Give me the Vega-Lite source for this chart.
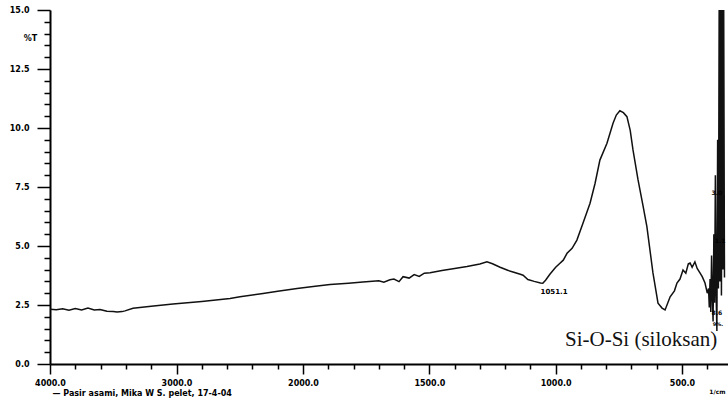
{
  "$schema": "https://vega.github.io/schema/vega-lite/v6.json",
  "width": 678,
  "height": 354,
  "autosize": {"type": "none"},
  "padding": {"left": 50, "top": 10, "right": 0, "bottom": 39},
  "background": "white",
  "config": {"view": {"stroke": null}},
  "datasets": {
    "spectrum": [
      {"w": 4000, "t": 2.32}, {"w": 3950, "t": 2.30}, {"w": 3900, "t": 2.34}, {"w": 3850, "t": 2.28},
      {"w": 3800, "t": 2.35}, {"w": 3750, "t": 2.29}, {"w": 3700, "t": 2.37}, {"w": 3650, "t": 2.29},
      {"w": 3605, "t": 2.31}, {"w": 3550, "t": 2.24}, {"w": 3500, "t": 2.22}, {"w": 3470, "t": 2.20},
      {"w": 3430, "t": 2.22}, {"w": 3407, "t": 2.25}, {"w": 3344, "t": 2.36}, {"w": 3200, "t": 2.45},
      {"w": 3028, "t": 2.54}, {"w": 2800, "t": 2.65}, {"w": 2577, "t": 2.78}, {"w": 2498, "t": 2.85},
      {"w": 2316, "t": 2.99}, {"w": 2200, "t": 3.08}, {"w": 2047, "t": 3.20}, {"w": 1960, "t": 3.28},
      {"w": 1893, "t": 3.37}, {"w": 1820, "t": 3.42}, {"w": 1763, "t": 3.47}, {"w": 1700, "t": 3.53},
      {"w": 1680, "t": 3.47}, {"w": 1656, "t": 3.57}, {"w": 1640, "t": 3.60}, {"w": 1620, "t": 3.49},
      {"w": 1604, "t": 3.70}, {"w": 1580, "t": 3.64}, {"w": 1560, "t": 3.79}, {"w": 1540, "t": 3.71},
      {"w": 1520, "t": 3.85}, {"w": 1497, "t": 3.87}, {"w": 1450, "t": 3.96}, {"w": 1400, "t": 4.05},
      {"w": 1351, "t": 4.13}, {"w": 1300, "t": 4.24}, {"w": 1272, "t": 4.33}, {"w": 1250, "t": 4.25},
      {"w": 1220, "t": 4.10}, {"w": 1190, "t": 3.97}, {"w": 1169, "t": 3.90}, {"w": 1140, "t": 3.80},
      {"w": 1129, "t": 3.76}, {"w": 1110, "t": 3.58}, {"w": 1085, "t": 3.50}, {"w": 1060, "t": 3.43},
      {"w": 1051, "t": 3.42}, {"w": 1040, "t": 3.55}, {"w": 1023, "t": 3.80}, {"w": 1000, "t": 4.10},
      {"w": 983, "t": 4.27}, {"w": 970, "t": 4.40}, {"w": 955, "t": 4.69}, {"w": 935, "t": 4.90},
      {"w": 916, "t": 5.25}, {"w": 892, "t": 5.96}, {"w": 864, "t": 6.81}, {"w": 844, "t": 7.66},
      {"w": 825, "t": 8.64}, {"w": 797, "t": 9.35}, {"w": 773, "t": 10.20}, {"w": 760, "t": 10.55},
      {"w": 746, "t": 10.73}, {"w": 732, "t": 10.65}, {"w": 718, "t": 10.48}, {"w": 705, "t": 9.90},
      {"w": 694, "t": 9.07}, {"w": 674, "t": 7.80}, {"w": 655, "t": 6.74}, {"w": 639, "t": 5.82},
      {"w": 615, "t": 3.86}, {"w": 595, "t": 2.58}, {"w": 579, "t": 2.37}, {"w": 567, "t": 2.29},
      {"w": 547, "t": 2.85}, {"w": 530, "t": 3.10}, {"w": 520, "t": 3.43}, {"w": 508, "t": 3.60},
      {"w": 496, "t": 3.98}, {"w": 485, "t": 3.85}, {"w": 475, "t": 4.25}, {"w": 468, "t": 4.28},
      {"w": 460, "t": 4.10}, {"w": 449, "t": 4.33}, {"w": 440, "t": 4.05}, {"w": 429, "t": 3.86},
      {"w": 420, "t": 3.70}, {"w": 409, "t": 3.43}, {"w": 400, "t": 3.0}, {"w": 395, "t": 3.2},
      {"w": 392, "t": 2.4}, {"w": 389, "t": 3.6}, {"w": 386, "t": 2.2}, {"w": 383, "t": 4.6},
      {"w": 380, "t": 2.9}, {"w": 377, "t": 1.8}, {"w": 374, "t": 5.5}, {"w": 371, "t": 2.6},
      {"w": 368, "t": 8.0}, {"w": 365, "t": 3.0}, {"w": 362, "t": 1.4}, {"w": 359, "t": 9.5},
      {"w": 356, "t": 3.2}, {"w": 353, "t": 15.0}, {"w": 350, "t": 3.5}, {"w": 347, "t": 15.0},
      {"w": 344, "t": 2.9}, {"w": 341, "t": 15.0}, {"w": 338, "t": 4.0}, {"w": 335, "t": 15.0},
      {"w": 332, "t": 3.7}, {"w": 329, "t": 3.7}
    ],
    "labels": [
      {"w": 1060, "t": 3.05, "text": "1051.1", "size": 7},
      {"w": 383, "t": 7.25, "text": "3.0", "size": 6},
      {"w": 370, "t": 5.2, "text": "1.1", "size": 6},
      {"w": 383, "t": 2.15, "text": "8.6", "size": 6},
      {"w": 378, "t": 1.7, "text": "9%.", "size": 5},
      {"w": 392, "t": -1.2, "text": "1/cm", "size": 6}
    ]
  },
  "resolve": {"axis": {"x": "independent", "y": "independent"}},
  "layer": [
    {
      "data": {"name": "spectrum"},
      "mark": {"type": "line", "color": "#111111", "strokeWidth": 1.5, "interpolate": "linear"},
      "encoding": {
        "x": {
          "field": "w",
          "type": "quantitative",
          "scale": {"domain": [4000, 2000, 318], "range": [0, 253, 678], "nice": false, "zero": false},
          "axis": {
            "orient": "bottom",
            "values": [4000, 3000, 2000, 1500, 1000, 500],
            "format": ".1f",
            "grid": false,
            "domainColor": "black",
            "domainWidth": 2,
            "tickColor": "black",
            "tickWidth": 1.5,
            "tickSize": 10,
            "labelFont": "DejaVu Sans",
            "labelFontWeight": "bold",
            "labelFontSize": 8,
            "labelColor": "black",
            "labelPadding": 5,
            "labelOverlap": false,
            "labelFlush": false,
            "title": "— Pasir asami, Mika W S. pelet, 17-4-04",
            "titleFont": "DejaVu Sans",
            "titleFontWeight": "bold",
            "titleFontSize": 8,
            "titleColor": "black",
            "titleX": 2,
            "titleY": 29,
            "titleAlign": "left",
            "titleBaseline": "middle"
          }
        },
        "y": {
          "field": "t",
          "type": "quantitative",
          "scale": {"domain": [0, 15], "nice": false, "zero": false},
          "axis": {
            "orient": "left",
            "values": [0, 2.5, 5, 7.5, 10, 12.5, 15],
            "format": ".1f",
            "grid": false,
            "domainColor": "black",
            "domainWidth": 2,
            "tickColor": "black",
            "tickWidth": 1.5,
            "tickSize": 13,
            "labelFont": "DejaVu Sans",
            "labelFontWeight": "bold",
            "labelFontSize": 8,
            "labelColor": "black",
            "labelPadding": 8,
            "labelOverlap": false,
            "labelFlush": false,
            "title": "%T",
            "titleFont": "DejaVu Sans",
            "titleFontWeight": "bold",
            "titleFontSize": 8,
            "titleColor": "black",
            "titleAngle": 0,
            "titleX": -20,
            "titleY": 28,
            "titleAlign": "center",
            "titleBaseline": "middle"
          }
        }
      }
    },
    {
      "data": {"name": "spectrum"},
      "mark": {"type": "point", "opacity": 0},
      "encoding": {
        "x": {
          "field": "w",
          "type": "quantitative",
          "axis": {
            "orient": "bottom",
            "values": [3800, 3600, 3400, 3200, 2800, 2600, 2400, 2200, 1900, 1800, 1700, 1600, 1400, 1300, 1200, 1100, 900, 800, 700, 600, 400],
            "labels": false,
            "domain": false,
            "grid": false,
            "tickColor": "black",
            "tickWidth": 1.5,
            "tickSize": 5,
            "title": null
          }
        },
        "y": {
          "field": "t",
          "type": "quantitative",
          "axis": {
            "orient": "left",
            "values": [0.5, 1, 1.5, 2, 3, 3.5, 4, 4.5, 5.5, 6, 6.5, 7, 8, 8.5, 9, 9.5, 10.5, 11, 11.5, 12, 13, 13.5, 14, 14.5],
            "labels": false,
            "domain": false,
            "grid": false,
            "tickColor": "black",
            "tickWidth": 1.5,
            "tickSize": 6,
            "title": null
          }
        }
      }
    },
    {
      "mark": {"type": "rule", "color": "black", "strokeWidth": 1.5},
      "encoding": {"y": {"datum": 15, "axis": null}}
    },
    {
      "data": {"name": "labels"},
      "mark": {"type": "text", "align": "left", "baseline": "middle", "font": "DejaVu Sans", "fontWeight": "bold", "color": "black"},
      "encoding": {
        "x": {"field": "w", "type": "quantitative", "axis": null},
        "y": {"field": "t", "type": "quantitative", "axis": null},
        "text": {"field": "text"},
        "size": {"field": "size", "type": "quantitative", "scale": null}
      }
    },
    {
      "data": {"values": [{"w": 963, "t": 1.0, "text": "Si-O-Si (siloksan)"}]},
      "mark": {"type": "text", "align": "left", "baseline": "middle", "font": "Liberation Serif", "fontSize": 21, "color": "#111111"},
      "encoding": {
        "x": {"field": "w", "type": "quantitative", "axis": null},
        "y": {"field": "t", "type": "quantitative", "axis": null},
        "text": {"field": "text"}
      }
    }
  ]
}
